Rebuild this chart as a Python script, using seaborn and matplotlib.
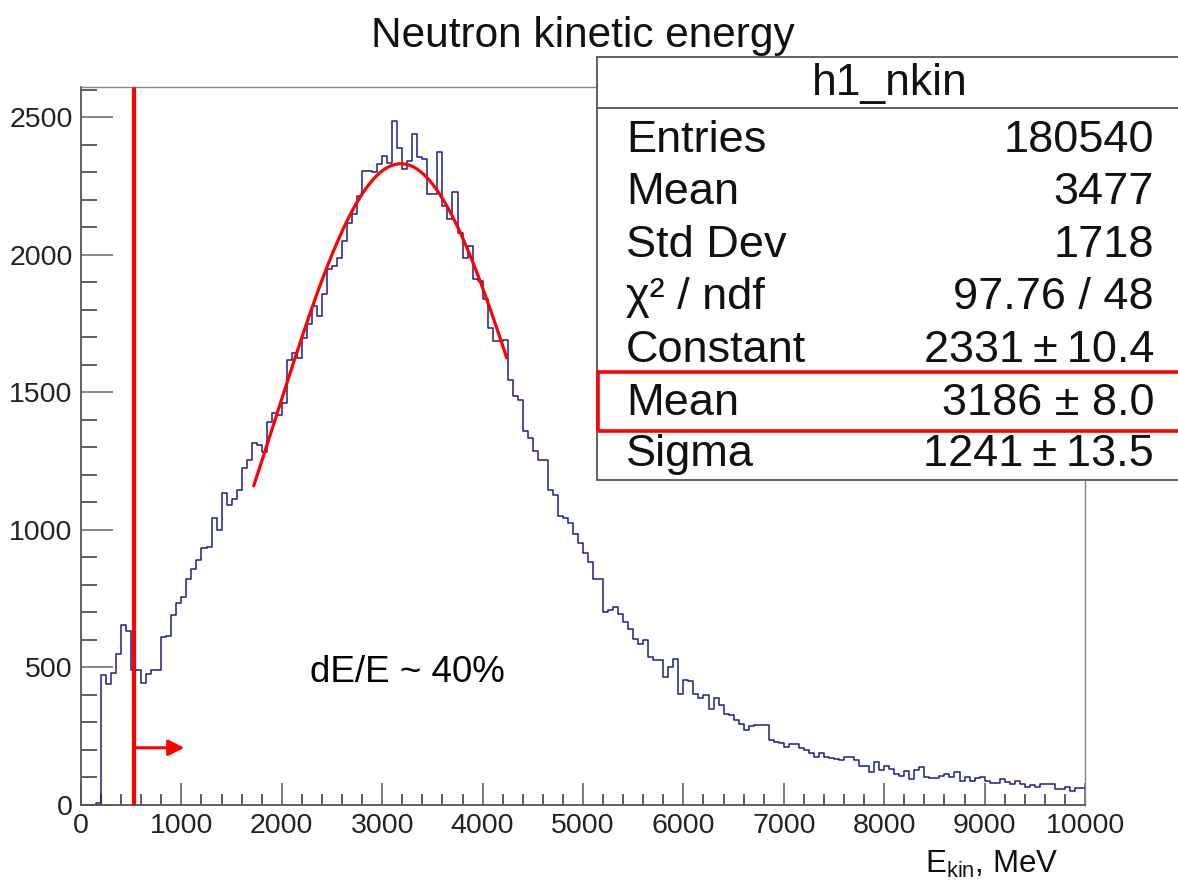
import numpy as np
import pandas as pd
import matplotlib
matplotlib.use("Agg")
import matplotlib.pyplot as plt
from matplotlib.patches import Rectangle
from matplotlib.lines import Line2D
from matplotlib.ticker import MultipleLocator
import seaborn as sns

# Histogram binning (MeV)
E_MIN, E_MAX, N_BINS = 0, 10000, 200

# Entries per 50 MeV bin
counts = [
    0, 0, 0, 8, 471, 439, 480, 548, 654, 631,
    490, 490, 444, 478, 490, 490, 611, 613, 690, 733,
    757, 820, 857, 891, 933, 938, 1043, 1000, 1134, 1092,
    1112, 1146, 1225, 1255, 1316, 1310, 1282, 1391, 1425, 1419,
    1461, 1619, 1644, 1625, 1698, 1747, 1814, 1777, 1856, 1947,
    1959, 1990, 2050, 2117, 2148, 2214, 2305, 2305, 2300, 2330,
    2358, 2335, 2487, 2390, 2311, 2342, 2439, 2354, 2348, 2220,
    2220, 2372, 2178, 2129, 2227, 2081, 1990, 2032, 1911, 1905,
    1838, 1735, 1686, 1686, 1692, 1546, 1486, 1474, 1358, 1335,
    1287, 1255, 1255, 1146, 1128, 1051, 1043, 1024, 985, 951,
    915, 885, 820, 820, 702, 709, 721, 696, 666, 638,
    605, 587, 599, 539, 526, 526, 466, 502, 530, 405,
    456, 451, 405, 390, 399, 350, 390, 362, 332, 326,
    310, 296, 271, 286, 290, 290, 290, 238, 229, 225,
    211, 220, 220, 207, 201, 189, 174, 189, 174, 170,
    168, 162, 174, 174, 165, 140, 140, 120, 156, 126,
    140, 132, 114, 104, 123, 95, 126, 138, 101, 99,
    99, 107, 114, 101, 120, 89, 101, 89, 99, 101,
    89, 79, 79, 95, 83, 77, 89, 75, 67, 71,
    67, 77, 77, 77, 59, 59, 67, 50, 63, 63,
]

# Gaussian fit result and fit range
fit_constant, fit_mean, fit_sigma = 2331, 3186, 1241
fit_lo, fit_hi = 1720, 4240

# Energy cut marker
cut_energy = 525

title_text = "Neutron kinetic energy"
hist_name = "h1_nkin"
stat_names = ["Entries", "Mean", "Std Dev", "\u03c7\u00b2 / ndf",
              "Constant", "Mean", "Sigma"]
stat_values = ["180540", "3477", "1718", "97.76 / 48",
               "2331\u2009\u00b1\u200910.4", "3186 \u00b1 8.0",
               "1241\u2009\u00b1\u200913.5"]
x_ticks = [0, 1000, 2000, 3000, 4000, 5000, 6000, 7000, 8000, 9000, 10000]
y_ticks = [0, 500, 1000, 1500, 2000, 2500]
resolution_text = "dE/E ~ 40%"

sns.set_style("white")
plt.rcParams["font.family"] = ["Liberation Sans", "DejaVu Sans"]
plt.rcParams["mathtext.fontset"] = "custom"
plt.rcParams["mathtext.rm"] = "Liberation Sans"
plt.rcParams["mathtext.it"] = "Liberation Sans:italic"

W, H = 1178, 882
fig = plt.figure(figsize=(W / 100, H / 100), dpi=100)
fig.patch.set_facecolor("white")


def fx(px):
    return px / W


def fy(py):
    return 1 - py / H


ax = fig.add_axes([fx(81), fy(805), fx(1085) - fx(81), fy(87) - fy(805)])
ax.set_facecolor("white")

bin_width = (E_MAX - E_MIN) / N_BINS
centers = E_MIN + bin_width * (np.arange(N_BINS) + 0.5)
df = pd.DataFrame({"energy": centers, "entries": counts})
sns.histplot(data=df, x="energy", weights="entries", bins=N_BINS,
             binrange=(E_MIN, E_MAX), element="step", fill=False,
             color="#1c1c8e", linewidth=1.1, ax=ax)

# Gaussian fit curve
xf = np.linspace(fit_lo, fit_hi, 300)
yf = fit_constant * np.exp(-0.5 * ((xf - fit_mean) / fit_sigma) ** 2)
sns.lineplot(x=xf, y=yf, color="#ff0000", linewidth=2.3, ax=ax)

ax.set_xlim(E_MIN, E_MAX)
ax.set_ylim(0, 2610)
ax.set_xlabel("")
ax.set_ylabel("")

ax.set_xticks(x_ticks)
ax.set_xticklabels([str(t) for t in x_ticks])
ax.set_yticks(y_ticks)
ax.set_yticklabels([str(t) for t in y_ticks])
ax.xaxis.set_minor_locator(MultipleLocator(200))
ax.yaxis.set_minor_locator(MultipleLocator(100))
ax.tick_params(axis="x", which="major", direction="in", length=16, width=1.1,
               color="#555555", labelsize=20.5, labelcolor="#222222", pad=6,
               top=False, bottom=True)
ax.tick_params(axis="x", which="minor", direction="in", length=8, width=1.1,
               color="#333333", top=False, bottom=True)
ax.tick_params(axis="y", which="major", direction="in", length=23, width=1.1,
               color="#666666", labelsize=20.5, labelcolor="#222222", pad=6,
               left=True, right=False)
ax.tick_params(axis="y", which="minor", direction="in", length=11.5, width=1.1,
               color="#333333", left=True, right=False)

for side in ["left", "bottom"]:
    ax.spines[side].set_color("#555555")
    ax.spines[side].set_linewidth(1.3)
for side in ["top", "right"]:
    ax.spines[side].set_color("#888888")
    ax.spines[side].set_linewidth(1.0)

# Energy cut line and arrow
ax.axvline(cut_energy, ymin=0, ymax=0.997, color="#ff0000", linewidth=3.0,
           zorder=4)
ax.annotate("", xy=(1030, 208), xytext=(cut_energy + 20, 208),
            arrowprops=dict(arrowstyle="-|>", color="#ff0000", lw=2.2,
                            mutation_scale=24, shrinkA=0, shrinkB=0),
            zorder=4)

# Title
fig.text(fx(583), fy(47), title_text, ha="center", va="baseline",
         fontsize=30.5, color="#111111")

# Resolution note
fig.text(fx(310), fy(682), resolution_text, ha="left", va="baseline",
         fontsize=26.5, color="#000000")

# Axis title
fig.text(fx(925), fy(873), r"E$_{\mathrm{kin}}$, MeV", ha="left",
         va="baseline", fontsize=22.5, color="#111111")

# Statistics box
box_left, box_top, box_bottom, box_right = 597, 57, 480, 1185
fig.add_artist(Rectangle((fx(box_left), fy(box_bottom)),
                         fx(box_right) - fx(box_left),
                         fy(box_top) - fy(box_bottom),
                         transform=fig.transFigure, facecolor="white",
                         edgecolor="#555555", linewidth=1.3, zorder=5))
fig.add_artist(Line2D([fx(box_left), fx(box_right)], [fy(108), fy(108)],
                      transform=fig.transFigure, color="#555555",
                      linewidth=1.3, zorder=6))
fig.text(fx(890), fy(95), hist_name, ha="center", va="baseline",
         fontsize=32, color="#111111", zorder=7)

row_baselines = [152, 204, 257, 309, 362, 415, 466]
for name, value, yb in zip(stat_names, stat_values, row_baselines):
    fig.text(fx(626), fy(yb), name, ha="left", va="baseline", fontsize=32.5,
             color="#111111", zorder=7)
    fig.text(fx(1154), fy(yb), value, ha="right", va="baseline",
             fontsize=32.5, color="#111111", zorder=7)

# Highlight of the fitted mean row
fig.add_artist(Rectangle((fx(598), fy(431)), fx(1190) - fx(598),
                         fy(372) - fy(431), transform=fig.transFigure,
                         fill=False, edgecolor="#ff0000", linewidth=2.6,
                         zorder=8))

fig.savefig("out.png", dpi=100, facecolor="white")
